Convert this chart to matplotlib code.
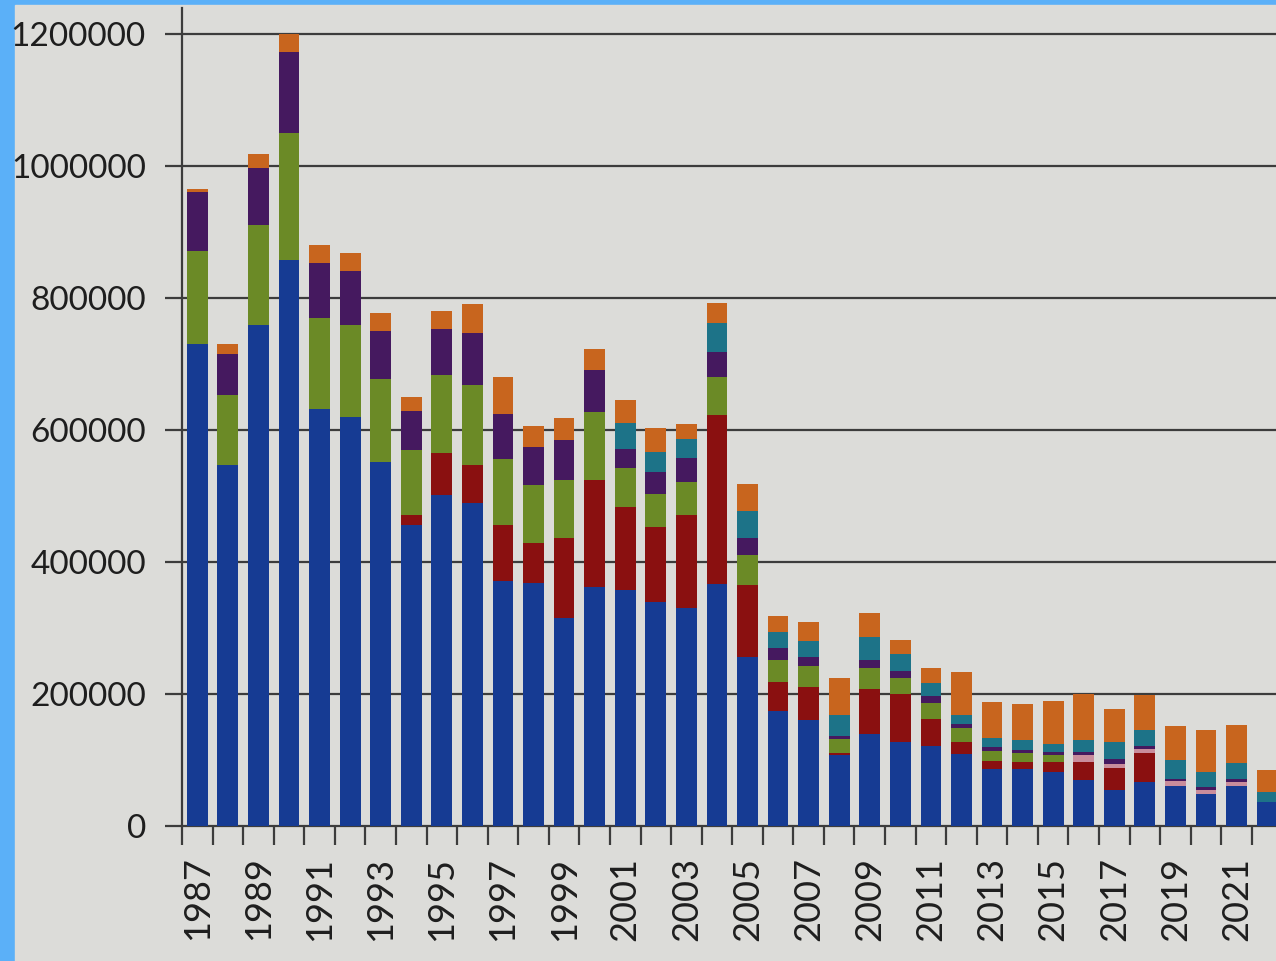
import matplotlib
matplotlib.use("Agg")
import matplotlib.pyplot as plt
from matplotlib.patches import Rectangle
import numpy as np

years = list(range(1987, 2023))

# values, in thousands, stacked bottom -> top
blue = [731, 547, 759, 858, 632, 620, 552, 457, 502, 489, 372, 369, 315, 363,
        358, 339, 331, 367, 256, 174, 161, 108, 140, 127, 122, 109, 87, 87,
        82, 69, 55, 67, 60, 48, 60, 37]
red = [0, 0, 0, 0, 0, 0, 0, 15, 63, 58, 85, 60, 122, 162,
       126, 114, 141, 256, 109, 45, 50, 3, 68, 73, 40, 18, 12, 10,
       15, 28, 33, 43, 0, 0, 0, 0]
green = [141, 107, 152, 192, 138, 139, 126, 98, 119, 121, 100, 88, 88, 102,
         58, 50, 50, 57, 46, 32, 32, 21, 32, 25, 25, 22, 15, 13,
         10, 0, 0, 0, 0, 0, 0, 0]
pink = [0] * 29 + [10, 6, 6, 8, 6, 6, 0]
purple = [89, 62, 86, 124, 83, 83, 73, 59, 70, 80, 67, 57, 60, 64,
          30, 33, 36, 38, 25, 19, 13, 5, 11, 10, 10, 5, 5, 5,
          5, 5, 8, 6, 4, 5, 5, 0]
teal = [0] * 14 + [39, 31, 28, 45, 42, 24, 24, 32, 35, 25, 20, 15, 15, 15,
                   13, 18, 25, 24, 28, 23, 24, 15]
orange = [5, 15, 22, 26, 28, 26, 27, 21, 26, 43, 56, 33, 34, 32,
          35, 36, 24, 30, 41, 24, 29, 56, 37, 22, 22, 65, 54, 55,
          64, 70, 50, 53, 51, 63, 58, 33]

series = [
    (blue, "#163b93"),
    (red, "#8a1010"),
    (green, "#6b8a26"),
    (pink, "#c98d9c"),
    (purple, "#45195f"),
    (teal, "#1d7388"),
    (orange, "#c8651e"),
]

fig = plt.figure(figsize=(12.76, 9.61), dpi=100)
fig.patch.set_facecolor("#5bb0f8")
# grey photo area inside the blue frame
fig.add_artist(Rectangle((15 / 1276, 0), 1 - 15 / 1276, 1 - 5 / 961,
                         transform=fig.transFigure, color="#dcdcd9", zorder=0))

ax = fig.add_axes([182 / 1276, 135 / 961, 1 - 182 / 1276, (961 - 135 - 8) / 961])
ax.set_facecolor("none")

x = np.arange(len(years))
bottom = np.zeros(len(years))
for vals, col in series:
    v = np.array(vals) * 1000
    ax.bar(x, v, width=0.68, bottom=bottom, color=col, zorder=3)
    bottom += v

ax.set_xlim(-0.5, 35.29)
ax.set_ylim(0, 1240000)

yt = np.arange(0, 1200001, 200000)
ax.set_yticks(yt)
ax.set_yticklabels([str(v) for v in yt])
for v in yt[1:]:
    ax.axhline(v, color="#3c3c3c", lw=1.6, zorder=1)

ax.set_xticks(x[::2])
ax.set_xticklabels([str(y) for y in years[::2]], rotation=90)
ax.set_xticks(np.arange(-0.5, 35.5, 1), minor=True)
ax.tick_params(axis="x", which="major", length=0, pad=22)
ax.tick_params(axis="x", which="minor", length=14, width=1.6, color="#3c3c3c")
ax.tick_params(axis="y", length=12, width=1.6, color="#3c3c3c", pad=14)

for lab in ax.get_xticklabels():
    lab.set_fontfamily("Lato")
    lab.set_fontsize(26)
    lab.set_color("#1e1e1e")
for lab in ax.get_yticklabels():
    lab.set_fontfamily("Lato")
    lab.set_fontsize(24)
    lab.set_color("#1e1e1e")

for s in ["top", "right"]:
    ax.spines[s].set_visible(False)
for s in ["left", "bottom"]:
    ax.spines[s].set_color("#3c3c3c")
    ax.spines[s].set_linewidth(1.6)

fig.savefig("out.png", dpi=100, facecolor=fig.get_facecolor())
